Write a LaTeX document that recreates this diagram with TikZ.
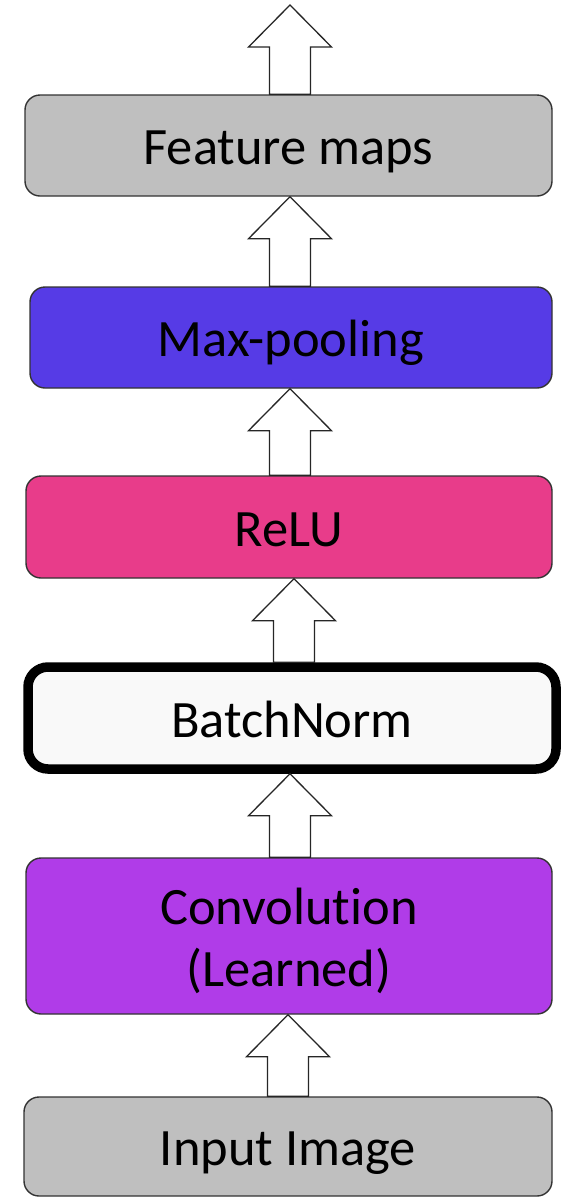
\documentclass[tikz,border=0pt]{standalone}
\usepackage{fontspec}
\setmainfont{Carlito}[Ligatures={NoCommon,NoRare,NoContextual}]
\usetikzlibrary{calc}

\definecolor{mapgray}{HTML}{BFBFBF}
\definecolor{poolblue}{HTML}{563BE6}
\definecolor{relupink}{HTML}{E83C8A}
\definecolor{convpurple}{HTML}{B03CE8}
\definecolor{normwhite}{HTML}{F9F9F9}

% struts so that every label sits a little low, as in the slide
\newcommand{\lbltop}{\rule{0pt}{0.99em}}
\newcommand{\lblbot}{\rule[-0.26em]{0pt}{0.26em}}

% block arrow from the top of one node up to another point
\newcommand{\blockarrow}[3][290]{%
	\draw[flowarrow] let \p1=(#2.north), \p2=(#3) in
		(#1pt-20.5pt,\y1) -- (#1pt-20.5pt,\y2-42pt) -- (#1pt-41.5pt,\y2-42pt) -- (#1pt,\y2)
		-- (#1pt+41.5pt,\y2-42pt) -- (#1pt+20.5pt,\y2-42pt) -- (#1pt+20.5pt,\y1) -- cycle;
}

\begin{document}
\begin{tikzpicture}[x=1pt, y=-1pt, line join=miter,
	font=\fontsize{52.5}{62}\selectfont,
	layer/.style={draw=black!80, line width=1.4pt, rounded corners=15pt, align=center, inner sep=0pt},
	flowarrow/.style={draw=black!85, fill=white, line width=1.3pt}]
	\useasboundingbox (0,0) rectangle (569,1197);

	% Layers
	\node[layer, fill=mapgray, minimum width=528pt, minimum height=99pt] (input) at (288,1146.5) {\lbltop Input Image\lblbot};
	\node[layer, fill=convpurple, minimum width=526pt, minimum height=156pt] (conv) at (289,936) {\lbltop Convolut\kern0pt ion\\(Learned)\lblbot};
	\node[layer, fill=normwhite, draw=black, line width=9.5pt, rounded corners=20pt,
		minimum width=528pt, minimum height=102pt] (norm) at (292,718) {\lbltop BatchNorm\lblbot};
	\node[layer, fill=relupink, minimum width=526pt, minimum height=102pt] (relu) at (289,527) {\lbltop ReLU\lblbot};
	\node[layer, fill=poolblue, minimum width=522pt, minimum height=101pt] (pool) at (291,337.5) {\lbltop Max-pooling\lblbot};
	\node[layer, fill=mapgray, minimum width=527pt, minimum height=101pt] (maps) at (288.5,145.5) {\lbltop Feature maps\lblbot};
	\coordinate (out) at (290,5);

	% Arrows
	\blockarrow[288]{input}{conv.south}
	\blockarrow{conv}{norm.south}
	\blockarrow[294]{norm}{relu.south}
	\blockarrow{relu}{pool.south}
	\blockarrow{pool}{maps.south}
	\blockarrow{maps}{out}
\end{tikzpicture}
\end{document}
